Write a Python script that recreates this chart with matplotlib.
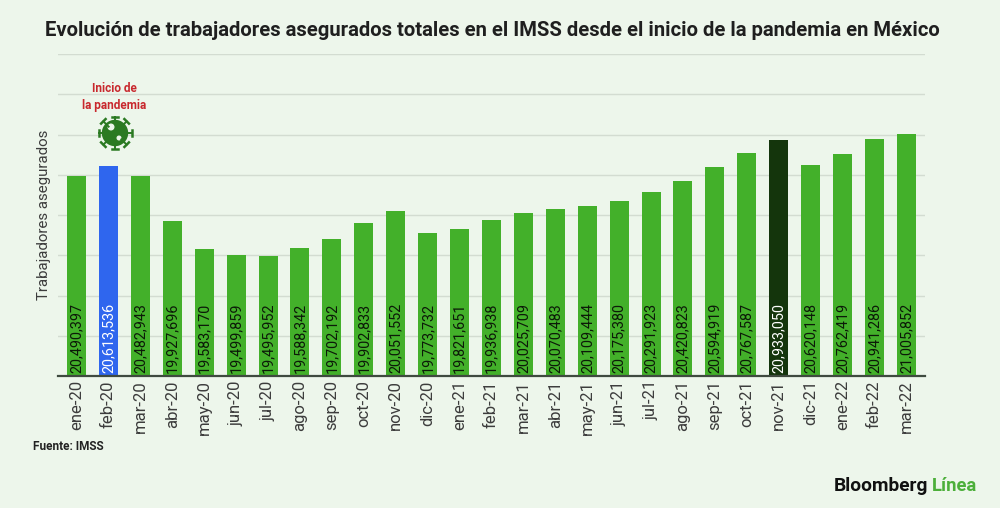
import numpy as np
import matplotlib
matplotlib.use("Agg")
import matplotlib.pyplot as plt
from matplotlib.patches import Circle
from matplotlib.lines import Line2D

plt.rcParams['font.family'] = ['Roboto', 'DejaVu Sans']

months = ["ene-20","feb-20","mar-20","abr-20","may-20","jun-20","jul-20","ago-20","sep-20","oct-20","nov-20","dic-20",
          "ene-21","feb-21","mar-21","abr-21","may-21","jun-21","jul-21","ago-21","sep-21","oct-21","nov-21","dic-21",
          "ene-22","feb-22","mar-22"]
workers = [20490397,20613536,20482943,19927696,19583170,19499859,19495952,19588342,19702192,19902833,20051552,19773732,
           19821651,19936938,20025709,20070483,20109444,20175380,20291923,20420823,20594919,20767587,20933050,20620148,
           20762419,20941286,21005852]
y_ticks = [18000000,18500000,19000000,19500000,20000000,20500000,21000000,21500000,22000000]

W, H = 1000, 508
BG = '#edf6eb'
GREEN, BLUE, DARK = '#43b02a', '#2f66ee', '#14350c'
colors = [BLUE if m == "feb-20" else DARK if m == "nov-21" else GREEN for m in months]

fig = plt.figure(figsize=(W/100, H/100), dpi=100, facecolor=BG)
L, R, T, B = 58, 925, 54, 376
ax = fig.add_axes([L/W, 1-B/H, (R-L)/W, (B-T)/H], facecolor=BG)

x = np.arange(len(months))
step = 31.92
ax.set_xlim(-(76.5-L)/step, (R-76.5)/step)
ax.set_ylim(y_ticks[0], y_ticks[-1])
ax.bar(x, workers, width=19/step, color=colors, zorder=3)

ax.set_yticks(y_ticks)
ax.set_yticklabels([])
ax.grid(axis='y', color='#d3dcd1', lw=1, zorder=0)
ax.set_axisbelow(True)
ax.tick_params(axis='y', length=0)
ax.set_xticks(x)
ax.set_xticklabels(months, rotation=90, fontsize=12, color='#3c3c3c')
ax.tick_params(axis='x', length=0, pad=3)
for s in ['top', 'right', 'left']:
    ax.spines[s].set_visible(False)
ax.spines['bottom'].set_color('#3f4a3f')
ax.spines['bottom'].set_linewidth(1.6)
ax.spines['bottom'].set_zorder(5)

for xi, v, c in zip(x, workers, colors):
    ax.annotate(f"{v:,}", (xi, y_ticks[0]), xytext=(0, 2.2), textcoords='offset points',
                rotation=90, ha='center', va='bottom', fontsize=10.4, zorder=6,
                color='white' if c != GREEN else '#0c1a08')

fig.text(492/W, 1-31/H, "Evolución de trabajadores asegurados totales en el IMSS desde el inicio de la pandemia en México",
         ha='center', va='center', fontsize=14.6, fontweight='bold', color='#1f1f1f')
fig.text(44/W, 1-215/H, "Trabajadores asegurados", rotation=90, ha='center', va='center', fontsize=10.8, color='#3c3c3c')
fig.text(114/W, 1-88/H, "Inicio de", ha='center', va='center', fontsize=8.5, fontweight='bold', color='#c8282d')
fig.text(114/W, 1-105/H, "la pandemia", ha='center', va='center', fontsize=8.5, fontweight='bold', color='#c8282d')
fig.text(33/W, 1-447/H, "Fuente: IMSS", ha='left', va='center', fontsize=8.5, fontweight='bold', color='#222222')
fig.text(834/W, 1-486/H, "Bloomberg", ha='left', va='center', fontsize=13.8, fontweight='bold', color='#111111')
fig.text(932/W, 1-486/H, "Línea", ha='left', va='center', fontsize=13.2, fontweight='bold', color='#4caf3a')

# virus icon in pixel coordinates
cx, cy = 115, 133
VG = '#2b7a22'
def P(px, py):
    return (px/W, 1-py/H)
for ang in np.arange(0, 360, 45):
    a = np.deg2rad(ang)
    dx, dy = np.cos(a), np.sin(a)
    p0, p1 = P(cx+9*dx, cy+9*dy), P(cx+16.5*dx, cy+16.5*dy)
    fig.add_artist(Line2D([p0[0], p1[0]], [p0[1], p1[1]], color=VG, lw=1.4, transform=fig.transFigure))
    q0, q1 = P(cx+16.5*dx-3.2*dy, cy+16.5*dy+3.2*dx), P(cx+16.5*dx+3.2*dy, cy+16.5*dy-3.2*dx)
    fig.add_artist(Line2D([q0[0], q1[0]], [q0[1], q1[1]], color=VG, lw=1.8, transform=fig.transFigure))
fig.add_artist(Circle((cx, H-cy), 12.5, color=VG, transform=None))
fig.add_artist(Circle((cx-4, H-(cy-6)), 2.8, color=BG, transform=None))
fig.add_artist(Circle((cx+4, H-(cy+5)), 1.8, color=BG, transform=None))

fig.savefig("out.png", dpi=100, facecolor=BG)
